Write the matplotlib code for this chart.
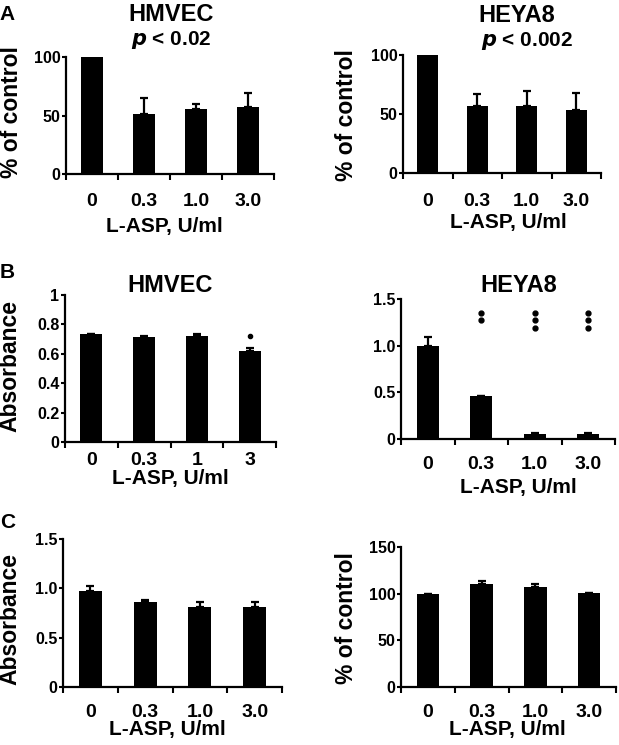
import numpy as np
import matplotlib
matplotlib.use("Agg")
import matplotlib.pyplot as plt

plt.rcParams['font.family'] = ['Liberation Sans', 'DejaVu Sans']
plt.rcParams['font.weight'] = 'bold'

# data
doses = ["0", "0.3", "1.0", "3.0"]
doses_b = ["0", "0.3", "1", "3"]

a_hmvec = [100, 51, 55.6, 57.5]
a_hmvec_err = [0, 14, 4.5, 12]
a_heya8 = [100, 56.7, 56.7, 53]
a_heya8_err = [0, 10, 13, 15]

b_hmvec = [0.734, 0.716, 0.72, 0.618]
b_hmvec_err = [0.003, 0.004, 0.012, 0.022]
b_heya8 = [1.0, 0.46, 0.05, 0.05]
b_heya8_err = [0.09, 0.0, 0.012, 0.012]

c_abs = [0.976, 0.865, 0.815, 0.815]
c_abs_err = [0.045, 0.02, 0.045, 0.045]
c_pct = [100, 110.8, 107.1, 100.4]
c_pct_err = [0, 2.9, 3.3, 0.6]

W, H = 619, 745
fig = plt.figure(figsize=(W / 100, H / 100), dpi=100)


def box(x0, x1, ytop, ybot):
    # pixel box -> figure fraction
    return [x0 / W, 1 - ybot / H, (x1 - x0) / W, (ybot - ytop) / H]


def panel(rect, vals, errs, labels, ylim, yticks, yticklabels, xpad):
    ax = fig.add_axes(rect)
    x = np.arange(len(vals))
    ax.bar(x, vals, width=0.42, color="black")
    ax.errorbar(x, vals, yerr=[np.zeros(len(vals)), errs], fmt="none",
                ecolor="black", elinewidth=1.6, capsize=3, capthick=1.6)
    ax.set_xlim(-0.5, len(vals) - 0.5)
    ax.set_ylim(*ylim)
    ax.set_yticks(yticks)
    ax.set_yticklabels(yticklabels)
    ax.set_xticks(np.arange(-0.5, len(vals), 1.0))
    ax.set_xticklabels([])
    ax.set_xticks(x, minor=True)
    ax.set_xticklabels(labels, minor=True)
    ax.tick_params(axis="x", which="major", direction="out", length=4, width=1.5)
    ax.tick_params(axis="x", which="minor", length=0, pad=xpad, labelsize=14)
    ax.tick_params(axis="y", direction="out", length=3, width=1.5, pad=1, labelsize=11.5)
    for s in ["top", "right"]:
        ax.spines[s].set_visible(False)
    for s in ["left", "bottom"]:
        ax.spines[s].set_linewidth(1.6)
    return ax


def ftext(x, y, s, size, rot=0, va="baseline"):
    fig.text(x / W, 1 - y / H, s, fontsize=size, fontweight="bold",
             rotation=rot, ha="center", va=va)


# row A
panel(box(66, 274, 57, 174), a_hmvec, a_hmvec_err, doses, (0, 100),
      [0, 50, 100], ["0", "50", "100"], 13.5)
panel(box(403, 601, 55, 173), a_heya8, a_heya8_err, doses, (0, 100),
      [0, 50, 100], ["0", "50", "100"], 14.5)

# row B
ax_b1 = panel(box(65, 276, 295, 442), b_hmvec, b_hmvec_err, doses_b, (0, 1),
              [0, 0.2, 0.4, 0.6, 0.8, 1.0], ["0", "0.2", "0.4", "0.6", "0.8", "1"], 7)
ax_b1.plot([3], [0.72], "o", color="black", markersize=3)
ax_b2 = panel(box(401, 615, 299, 439), b_heya8, b_heya8_err, doses, (0, 1.5),
              [0, 0.5, 1.0, 1.5], ["0", "0.5", "1.0", "1.5"], 12)
ax_b2.plot([1, 1], [1.35, 1.27], "o", color="black", markersize=3.5)
ax_b2.plot([2, 2, 2], [1.35, 1.27, 1.19], "o", color="black", markersize=3.5)
ax_b2.plot([3, 3, 3], [1.35, 1.27, 1.19], "o", color="black", markersize=3.5)

# row C
panel(box(63, 282, 539, 687), c_abs, c_abs_err, doses, (0, 1.5),
      [0, 0.5, 1.0, 1.5], ["0", "0.5", "1.0", "1.5"], 12.5)
panel(box(401, 616, 547, 687), c_pct, c_pct_err, doses, (0, 150),
      [0, 50, 100, 150], ["0", "50", "100", "150"], 12.5)

# titles
ftext(171, 21, "HMVEC", 17)
ftext(517, 22, "HEYA8", 17)
ftext(171, 45, r"$\mathbfit{p}$ < 0.02", 15)
ftext(527, 46, r"$\mathbfit{p}$ < 0.002", 15)
ftext(170, 292, "HMVEC", 17)
ftext(519, 292, "HEYA8", 17)

# panel letters
ftext(7, 20, "A", 15)
ftext(7, 278, "B", 15)
ftext(8, 528, "C", 15)

# y labels
ftext(11, 112, "% of control", 16.5, rot=90, va="center")
ftext(347, 115, "% of control", 16.5, rot=90, va="center")
ftext(10, 366, "Absorbance", 16.5, rot=90, va="center")
ftext(10, 619, "Absorbance", 16.5, rot=90, va="center")
ftext(347, 618, "% of control", 16.5, rot=90, va="center")

# x labels
ftext(164, 232, "L-ASP, U/ml", 15)
ftext(508, 228, "L-ASP, U/ml", 15)
ftext(170, 484, "L-ASP, U/ml", 15)
ftext(518, 493, "L-ASP, U/ml", 15)
ftext(167, 735, "L-ASP, U/ml", 15)
ftext(507, 735, "L-ASP, U/ml", 15)

fig.savefig("out.png", dpi=100)
